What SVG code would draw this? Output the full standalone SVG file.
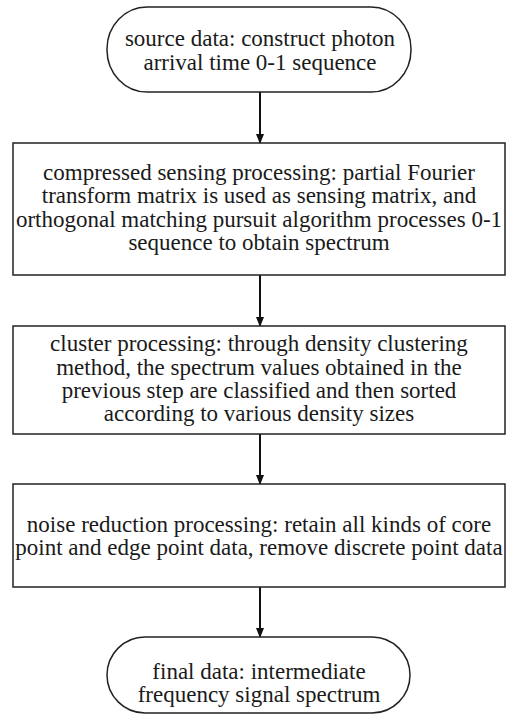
<svg xmlns="http://www.w3.org/2000/svg" width="507" height="715" viewBox="0 0 507 715">
<style>
.box{fill:#fff;stroke:#222;stroke-width:1.5}
.t{font-family:"Liberation Serif","Times New Roman",serif;font-size:23px;fill:#1a1a1a;text-anchor:middle}
.c{stroke:#111;stroke-width:2;fill:none;marker-end:url(#ah)}
</style>
<defs>
<marker id="ah" markerWidth="10" markerHeight="8" refX="9" refY="4" orient="auto" markerUnits="userSpaceOnUse">
<path d="M0,0 L10,4 L0,8 Z" fill="#111"/>
</marker>
</defs>
<rect width="507" height="715" fill="#fff"/>
<g id="connectors">
<line class="c" x1="260" y1="92" x2="260" y2="143"/>
<line class="c" x1="260" y1="275" x2="260" y2="326"/>
<line class="c" x1="260" y1="434" x2="260" y2="484"/>
<line class="c" x1="260" y1="587" x2="260" y2="637"/>
</g>
<g id="n1">
<rect class="box" x="107" y="7" width="304" height="85" rx="40" ry="42"/>
<text class="t" x="260" y="46">source data: construct photon</text>
<text class="t" x="260" y="70">arrival time 0-1 sequence</text>
</g>
<g id="n2">
<rect class="box" x="13" y="143" width="492" height="132"/>
<text class="t" x="259" y="180">compressed sensing processing: partial Fourier</text>
<text class="t" x="259" y="203">transform matrix is used as sensing matrix, and</text>
<text class="t" x="259" y="227">orthogonal matching pursuit algorithm processes 0-1</text>
<text class="t" x="259" y="250">sequence to obtain spectrum</text>
</g>
<g id="n3">
<rect class="box" x="13" y="326" width="492" height="108"/>
<text class="t" x="259" y="351">cluster processing: through density clustering</text>
<text class="t" x="259" y="375">method, the spectrum values obtained in the</text>
<text class="t" x="259" y="398">previous step are classified and then sorted</text>
<text class="t" x="259" y="421">according to various density sizes</text>
</g>
<g id="n4">
<rect class="box" x="13" y="484" width="492" height="103"/>
<text class="t" x="259" y="532">noise reduction processing: retain all kinds of core</text>
<text class="t" x="259" y="555">point and edge point data, remove discrete point data</text>
</g>
<g id="n5">
<rect class="box" x="107" y="637" width="303" height="76" rx="38" ry="38"/>
<text class="t" x="259" y="679">final data: intermediate</text>
<text class="t" x="259" y="702">frequency signal spectrum</text>
</g>
</svg>
